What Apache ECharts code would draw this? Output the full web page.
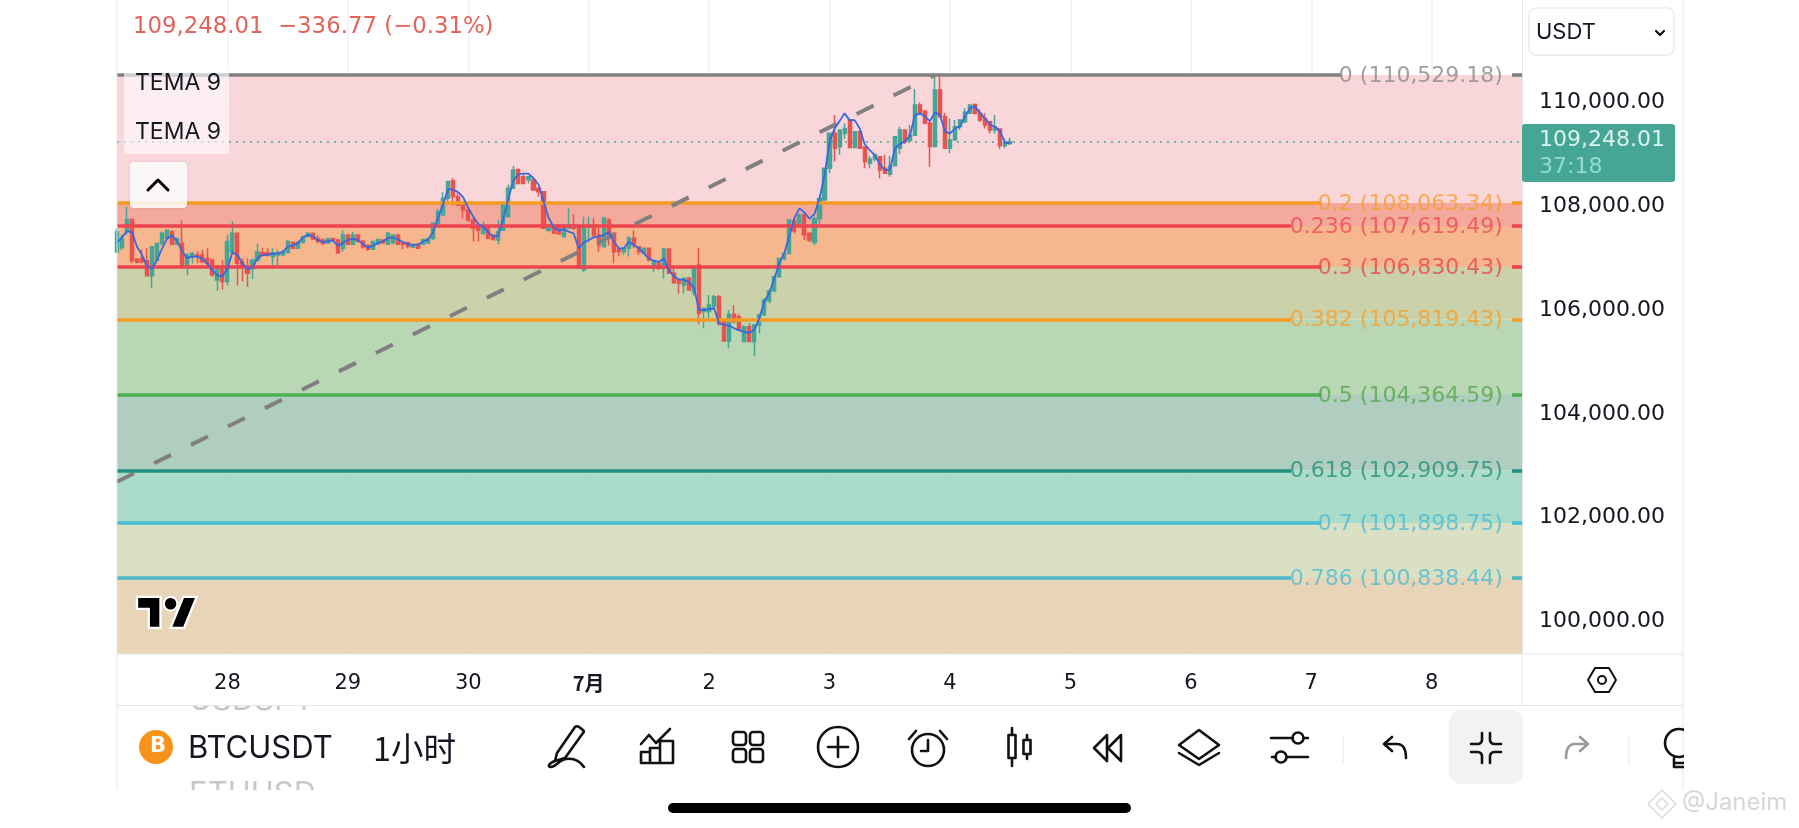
<!DOCTYPE html>
<html><head><meta charset="utf-8">
<style>html,body{margin:0;padding:0;background:#fff}#c{width:1799px;height:828px}</style>
<script src="https://cdn.jsdelivr.net/npm/echarts@6/dist/echarts.min.js"></script>
</head><body><div id="c"></div>
<script>
const firstDayIndex = 22, hoursPerDay = 24, lastIndex = 280;
const dayLabels = ['28','29','30','7月','2','3','4','5','6','7','8'];
const priceTicks = [100000,102000,104000,106000,108000,110000];
const lastPrice = 109248.01;
const fibRatios = ['0','0.2','0.236','0.3','0.382','0.5','0.618','0.7','0.786'];
const fibPrices = [110529.18,108063.34,107619.49,106830.43,105819.43,104364.59,102909.75,101898.75,100838.44];
const fibColors = ['#808080','#f59a23','#ef4350','#ef4350','#f59a23','#4caf50','#23917f','#45bdd6','#4db6c8'];
const fibLabelColors = ['#8a8a8a','#f5a02e','#ef4b55','#e9474f','#f5a02e','#55a84f','#28907e','#4dbbd4','#52bcd0'];
const zoneColors = ['rgba(248,207,212,.85)','rgba(241,154,137,.85)','rgba(244,170,122,.85)','rgba(194,201,153,.85)','rgba(173,207,168,.85)','rgba(162,198,180,.85)','rgba(156,214,193,.85)','rgba(211,219,186,.85)','rgba(228,206,170,.85)'];
const fibLineEnds = [244,240,234,240,234,240,234,240,234];
const trendStart = [0,102693], trendEnd = [163,110529.18];
// open, close, low, high
const candles = [
[107120,107510,107100,107570],[107200,107380,107150,107450],[107510,107740,107450,107990],[107740,106950,106900,107770],[106980,106920,106900,107000],
[106990,106930,106900,107160],[106950,106660,106660,107190],[106660,107220,106430,107220],[106960,107280,106960,107280],[107280,107480,107250,107510],
[107380,107540,107380,107550],[107510,107270,107270,107540],[107270,107380,107270,107400],[107285,106870,106840,107730],[106860,107060,106670,107090],
[107030,107090,106900,107120],[107060,107030,106900,107140],[107060,106930,106900,107160],[106995,106900,106835,107190],[106965,106675,106640,106995],
[106580,106835,106370,106870],[106800,106550,106390,106960],[106550,107320,106480,107450],[107120,107480,107090,107715],[107480,106900,106480,107480],
[106930,106835,106550,106995],[106835,106710,106450,106995],[106800,106960,106600,106995],[106960,107120,106930,107280],[107105,107060,107030,107190],
[107105,107060,107030,107190],[107030,107105,106800,107190],[107060,107105,106820,107160],[107060,107125,107060,107150],[107110,107320,107090,107350],
[107300,107190,107190,107320],[107190,107300,107190,107320],[107300,107415,107300,107430],[107415,107480,107400,107500],[107480,107370,107370,107490],
[107380,107320,107280,107440],[107350,107285,107250,107380],[107285,107380,107285,107390],[107380,107350,107330,107390],[107350,107100,107100,107370],
[107190,107447,107125,107540],[107447,107270,107250,107460],[107270,107447,107270,107510],[107447,107320,107300,107460],[107330,107220,107180,107340],
[107250,107170,107140,107260],[107170,107320,107170,107330],[107270,107360,107260,107370],[107350,107290,107280,107360],[107270,107480,107270,107500],
[107290,107447,107280,107460],[107447,107270,107260,107460],[107290,107270,107170,107320],[107300,107230,107190,107310],[107210,107270,107200,107280],
[107270,107190,107180,107280],[107270,107360,107260,107370],[107290,107380,107280,107390],[107380,107671,107350,107680],[107671,107895,107650,107950],
[107830,108150,107830,108270],[108150,108475,108100,108475],[108490,108185,108020,108540],[108185,108020,108020,108250],[108056,107930,107770,108100],
[107930,107735,107700,107930],[107735,107575,107320,107800],[107607,107540,107320,107640],[107478,107640,107447,107700],[107607,107380,107380,107640],
[107446,107360,107340,107460],[107350,107510,107270,107735],[107540,108056,107540,108056],[107800,108345,107800,108420],[108345,108700,108345,108780],
[108710,108440,108440,108720],[108570,108440,108430,108610],[108510,108570,108440,108590],[108506,108313,108300,108520],[108345,108280,108185,108360],
[108280,107575,107575,108280],[107540,107640,107510,107660],[107607,107480,107470,107620],[107640,107465,107460,107650],[107414,107640,107414,107660],
[107575,107640,107575,107960],[107640,107575,107540,107845],[107606,106804,106800,107640],[106770,107606,106740,107800],[107606,107640,107300,107800],
[107640,107446,107400,107770],[107446,107253,107125,107640],[107220,107767,107220,107800],[107735,107380,107250,107767],[107478,107125,106900,107500],
[107175,107125,107030,107190],[107125,107189,107060,107189],[107189,107382,107030,107420],[107382,107253,107190,107540],[107220,107125,107060,107230],
[107090,107189,107080,107200],[107189,106965,106940,107200],[106868,106930,106740,106950],[106900,106804,106770,106910],[106804,107176,106610,107189],
[107176,106708,106708,107189],[106708,106530,106500,106800],[106580,106515,106320,106600],[106483,106611,106320,106611],[106611,106386,106386,106640],
[106355,106804,106280,106836],[106868,105940,105725,107189],[105970,106034,105650,106050],[105970,106098,105840,106290],[106066,106258,106030,106290],
[106258,105745,105700,106290],[105777,105405,105405,105800],[105405,105918,105263,106000],[105918,105777,105745,106098],[105873,105616,105616,105930],
[105392,105680,105392,105700],[105680,105392,105392,105745],[105392,105712,105120,105730],[105712,105905,105550,105930],[105905,106194,105905,106230],
[106175,106367,106130,106400],[106367,106643,106367,106650],[106643,106995,106643,107000],[106995,107090,106950,107100],[107090,107735,107090,107750],
[107720,107530,107480,107750],[107610,107830,107610,107860],[107830,107447,107350,107870],[107480,107350,107310,107500],[107300,107760,107250,107800],
[107760,108150,107640,108170],[108121,108731,108121,108740],[108731,109405,108640,109405],[109405,109116,108860,109758],[109148,109470,108990,109470],
[109400,109500,109300,109600],[109660,109130,109116,109680],[109130,109437,109116,109450],[109437,109116,109116,109450],[109148,108860,108731,109150],
[108830,108910,108731,108970],[108910,108990,108860,109000],[108955,108700,108540,108960],[108731,108635,108635,108990],[108615,108780,108570,108975],
[108780,109340,108780,109350],[109116,109470,109000,109530],[109470,109245,109200,109470],[109265,109370,109240,109565],[109370,109951,109370,110260],
[109951,109790,109760,110000],[109835,109600,109580,109850],[109600,109150,108763,109640],[109150,110240,109150,110497],[110240,109726,109726,110497],
[109726,109116,109116,109800],[109116,109277,109020,109690],[109277,109534,109277,109660],[109534,109660,109470,109680],[109630,109810,109600,109890],
[109790,109951,109790,109960],[109960,109790,109770,109980],[109790,109660,109630,109870],[109690,109566,109500,109790],[109630,109470,109400,109640],
[109470,109530,109400,109760],[109490,109170,109110,109500],[109170,109230,109120,109300],[109210,109248,109180,109320]];
const temaValues = [107300,107400,107520,107500,107220,107060,106840,106800,106970,107190,107380,107440,107320,107130,107000,107030,107030,106990,106900,106770,
106670,106650,106800,107110,107060,106900,106790,106820,107000,107060,107070,107080,107090,107110,107220,107240,107290,107390,107450,107430,
107350,107310,107330,107340,107240,107290,107350,107370,107350,107270,107210,107230,107300,107320,107390,107400,107360,107310,107270,107250,
107260,107320,107360,107500,107780,108050,108330,108320,108270,108170,107970,107800,107660,107600,107500,107410,107440,107760,108150,108500,
108620,108630,108630,108540,108420,108100,107780,107600,107530,107560,107510,107480,107190,107300,107350,107400,107420,107440,107510,107320,
107190,107190,107320,107250,107190,107090,106990,106950,106930,106990,106770,106650,106590,106580,106540,106420,106000,106000,106020,106030,
105740,105720,105700,105650,105610,105580,105560,105620,105840,106160,106330,106610,106900,107100,107430,107770,107960,107880,107760,107850,
108150,108600,109240,109500,109640,109790,109660,109660,109500,109200,109080,108990,108810,108700,108700,109100,109200,109250,109350,109750,
109790,109730,109640,109810,109760,109440,109400,109500,109540,109730,109890,109920,109800,109690,109570,109530,109440,109220,109210];

const categories = [];
for (let i = 0; i <= lastIndex; i++) {
  const d = (i - firstDayIndex) / hoursPerDay;
  categories.push(Number.isInteger(d) && d >= 0 && d < dayLabels.length ? dayLabels[d] : '');
}
const isDay = (i, v) => v !== '';
const fmt = v => v.toLocaleString('en-US',{minimumFractionDigits:2,maximumFractionDigits:2});
const FONT = 'Inter', NUMFONT = 'DejaVu Sans';
const GREEN = '#45a696';
const Y_MIN = 99373, Y_MAX = 111974;

const zoneBounds = fibPrices.concat([Y_MIN]);
const zones = fibPrices.map((p,i)=>[{yAxis:p,itemStyle:{color:zoneColors[i]}},{yAxis:zoneBounds[i+1]}]);

const fibSeries = fibPrices.map((p,i)=>({
  type:'line', z:2, data:[], silent:true,
  markLine:{silent:true,symbol:'none',animation:false,label:{show:false},
    lineStyle:{color:fibColors[i],width:3.6,type:'solid'},
    data:[[{xAxis:0,yAxis:p},{xAxis:fibLineEnds[i],yAxis:p}],[{xAxis:278,yAxis:p},{xAxis:lastIndex,yAxis:p}]]}
}));
const fibLabels = {
  type:'scatter', z:6, symbolSize:0, silent:true,
  data:fibPrices.map((p,i)=>({value:[276,p],label:{color:fibLabelColors[i],formatter:fibRatios[i]+' ('+fmt(p)+')'}})),
  label:{show:true,position:'left',distance:-1,fontFamily:NUMFONT,fontSize:22,offset:[0,1]}
};

const stroke = {stroke:'#111',fill:null,lineWidth:2.6,lineCap:'round',lineJoin:'round'};
let iconId = 0;
function shapeOf(d){const n='ic'+(iconId++);echarts.graphic.registerShape(n,echarts.graphic.extendPath(d,{}));return n;}
function icon(d,x,y,style){return {type:shapeOf(d),z:60,x,y,shape:{},style:Object.assign({},stroke,style||{}),silent:true};}
function text(t,x,y,size,color,extra,z){return {type:'text',z:z===undefined?60:z,x,y,silent:true,style:Object.assign({text:t,fontFamily:FONT,fontSize:size,fill:color,verticalAlign:'middle'},extra||{})};}
function rect(x,y,w,h,fill,r,z,extra){return {type:'rect',z:z===undefined?50:z,silent:true,shape:{x,y,width:w,height:h,r:r||0},style:Object.assign({fill},extra||{})};}
const line=(x1,y1,x2,y2,c)=>({type:'line',z:55,silent:true,shape:{x1,y1,x2,y2},style:{stroke:c||'#e6e6ea',lineWidth:1}});

const graphics = [
  text('USDSPT',189,701,31,'#c8c8c8',{},-2), rect(118,655,1403,50,'#fff',0,-1),
  text('ETHUSD',189,795,31,'#c8c8c8',{},-2), rect(118,790,1400,38,'#fff',0,-1),
  line(117,654,1683,654), line(117,705.5,1683,705.5), line(1522,654,1522,705), line(1683,0,1683,790), line(117,0,117,790),
  text('109,248.01  −336.77 (−0.31%)',133,27,22.8,'#e2635a',{fontFamily:NUMFONT}),
  rect(124,60,105,94,'rgba(255,255,255,.62)',2),
  text('TEMA 9',135,83,23,'#131722'), text('TEMA 9',135,132,23,'#131722'),
  rect(130,162,57,46,'rgba(255,255,255,.86)',4,50,{shadowBlur:3,shadowColor:'rgba(0,0,0,.12)'}),
  icon('M-10 5 L0 -5 L10 5',158,185,{lineWidth:3,stroke:'#000'}),
  {type:'group',z:60,x:137,y:590,scaleX:1.68,scaleY:1.72,silent:true,children:[
    {type:shapeOf('M14 22H7V11H0V4h14v18zM28 22h-8l7.5-18h8L28 22z'),z:60,shape:{},style:{fill:'#000',stroke:'#fff',lineWidth:1.4}},
    {type:'circle',z:60,shape:{cx:20,cy:8,r:4},style:{fill:'#000',stroke:'#fff',lineWidth:1.2}}]},
  rect(1529,8,145,47,'#fff',7,50,{stroke:'#ececec',lineWidth:1.5}),
  text('USDT',1536,32,22,'#131722'),
  icon('M-4 -2 L0 2 L4 -2',1660,33,{lineWidth:2.2}),
  rect(1522,124,153,58,GREEN,3),
  text(fmt(lastPrice),1539,140,22,'#dcf3ee',{fontFamily:NUMFONT}), text('37:18',1539,167,22,'#93dccf',{fontFamily:NUMFONT}),
  icon('M-14 0 L-7 -12 H7 L14 0 L7 12 H-7 Z',1602,680,{lineWidth:2}),
  {type:'circle',z:60,silent:true,shape:{cx:1602,cy:680,r:4},style:{stroke:'#111',fill:null,lineWidth:2}},
  {type:'circle',z:60,silent:true,shape:{cx:156,cy:747,r:17},style:{fill:'#f7931a'}},
  text('B',150,747,21,'#fff',{fontWeight:'bold',fontFamily:'DejaVu Sans'}),
  text('BTCUSDT',188,749,31,'#131722'), text('1小时',373,749,32.5,'#131722',{fontFamily:'Noto Sans CJK SC'}),
  icon('M-11 7 L7 -19 C8 -20 10 -20 11 -19 L15 -16 C16 -15 16 -14 15 -13 L-3 12 L-13 15 Z M-13 15 C-19 17 -21 21 -17 21 C-12 21 -9 14 -2 13 C6 12 12 15 16 21',568,746),
  icon('M-16 -2 L-8 -11 L-1 -3 L13 -17 M-16 17 L-16 6 L-7 6 L-7 17 Z M-7 17 L-7 2 L3 2 L3 17 Z M3 17 L3 -5 L16 -5 L16 17 Z',657,746),
  rect(733,732,13,13,null,3,60,Object.assign({},stroke)), rect(750,732,13,13,null,3,60,Object.assign({},stroke)),
  rect(733,749,13,13,null,3,60,Object.assign({},stroke)), rect(750,749,13,13,null,3,60,Object.assign({},stroke)),
  {type:'circle',z:60,silent:true,shape:{cx:838,cy:747,r:20},style:Object.assign({},stroke)},
  icon('M-10 0 H10 M0 -10 V10',838,747),
  {type:'circle',z:60,silent:true,shape:{cx:928,cy:750,r:16},style:Object.assign({},stroke)},
  icon('M0 -9 V2 H-7 M-19 -10 L-12 -18 M19 -10 L12 -18',928,749),
  icon('M0 -19 V-12 M-3.5 -12 H3.5 V11 H-3.5 Z M0 11 V19',1012,747), icon('M0 -12 V-7 M-3.5 -7 H3.5 V7 H-3.5 Z M0 7 V12',1027,747),
  icon('M-1 -13 L-14 0 L-1 13 Z M13 -13 L0 0 L13 13 Z',1108,748),
  icon('M0 -17 L20 -2 L0 12 L-20 -2 Z M-20 6 L0 18 L20 6',1199,747),
  icon('M-19 -9 H3 M14 -9 H18 M-18 10 H-14 M-3 10 H18',1290,747),
  {type:'circle',z:60,silent:true,shape:{cx:1298,cy:738,r:5.5},style:Object.assign({},stroke)},
  {type:'circle',z:60,silent:true,shape:{cx:1281,cy:757,r:5.5},style:Object.assign({},stroke)},
  line(1343,735,1343,765), line(1629,735,1629,765),
  icon('M-3 -11 L-11 -4 L-3 3 M-11 -4 H2 C9 -4 11 2 11 10',1395,748),
  rect(1449,710,74,74,'#f2f2f2',12),
  icon('M-4 -15 V-8 C-4 -6 -6 -4 -8 -4 H-15 M4 -15 V-8 C4 -6 6 -4 8 -4 H15 M-15 4 H-8 C-6 4 -4 6 -4 8 V15 M15 4 H8 C6 4 4 6 4 8 V15',1486,748),
  icon('M3 -11 L11 -4 L3 3 M11 -4 H-2 C-9 -4 -11 2 -11 10',1577,748,{stroke:'#9a9a9a'}),
  {type:'circle',z:60,silent:true,shape:{cx:1679,cy:743,r:14},style:Object.assign({},stroke)},
  icon('M-4 13 V22 H6 M-4 18 H6',1678,745),
  rect(1684,705,115,85,'#fff',0,61),
  rect(668,803,463,10,'#000',5),
  icon('M0 -14 L14 0 L0 14 L-14 0 Z M0 -6 L6 0 L0 6 L-6 0 Z',1662,804,{stroke:'#dcdcdc',lineWidth:1.5}),
  text('@Janeim',1682,803,24,'#d6d6d6'),
];

const chart = echarts.init(document.getElementById('c'));
chart.setOption({
  animation:false,
  backgroundColor:'#fff',
  grid:{left:117,right:277,top:0,bottom:174},
  xAxis:{type:'category',data:categories,boundaryGap:false,
    axisLine:{show:false},axisTick:{show:false},
    axisLabel:{interval:isDay,margin:19,fontFamily:NUMFONT,fontSize:21,color:'#131722',
      formatter:v=>v==='7月'?'{b|7月}':v,rich:{b:{fontWeight:'bold',fontFamily:'Noto Sans CJK SC',fontSize:20,color:'#131722'}}},
    splitLine:{show:true,interval:isDay,lineStyle:{color:'rgba(60,60,70,.075)',width:1.5}}},
  yAxis:{type:'value',position:'right',min:Y_MIN,max:Y_MAX,
    axisLine:{show:true,lineStyle:{color:'#e6e6ea'}},axisTick:{show:false,customValues:priceTicks},
    axisLabel:{customValues:priceTicks,margin:17,fontFamily:NUMFONT,fontSize:22,color:'#131722',padding:[2,0,0,0],formatter:v=>fmt(v)},
    splitLine:{show:true,lineStyle:{color:'rgba(60,60,70,.075)',width:1.5}}},
  graphic:{elements:graphics},
  series:[
    {type:'line',z:1,data:[],silent:true,markArea:{silent:true,animation:false,data:zones}},
    ...fibSeries,
    {type:'line',z:3,data:[],silent:true,markLine:{silent:true,symbol:'none',animation:false,label:{show:false},
      lineStyle:{color:'#808080',width:4,type:[19,22.3]},
      data:[[{xAxis:trendStart[0],yAxis:trendStart[1]},{xAxis:trendEnd[0],yAxis:trendEnd[1]}]]}},
    {type:'line',z:3,data:[],silent:true,markLine:{silent:true,symbol:'none',animation:false,label:{show:false},
      lineStyle:{color:GREEN,width:1.6,type:[2,5]},
      data:[[{xAxis:0,yAxis:lastPrice},{xAxis:lastIndex,yAxis:lastPrice}]]}},
    {type:'candlestick',z:4,data:candles,barWidth:3.6,silent:true,
      itemStyle:{color:GREEN,color0:'#e8534f',borderColor:GREEN,borderColor0:'#e8534f',borderWidth:1.5}},
    {type:'line',z:5,data:temaValues,showSymbol:false,silent:true,lineStyle:{color:'#3a66e0',width:1.8}},
    fibLabels
  ]
});
</script></body></html>
